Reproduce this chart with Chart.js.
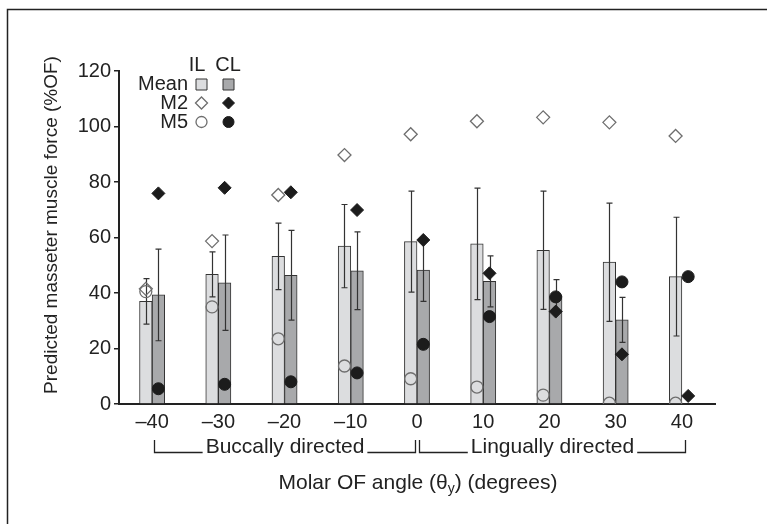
<!DOCTYPE html>
<html>
<head>
<meta charset="utf-8">
<script src="https://cdn.jsdelivr.net/npm/chart.js@4/dist/chart.umd.min.js"></script>
<style>
  html, body { margin: 0; padding: 0; background: #fff; }
  #wrap { position: relative; width: 767px; height: 524px; }
</style>
</head>
<body>
<div id="wrap"><canvas id="chart" width="767" height="524"></canvas></div>
<script>
// molar OF angle (theta y), degrees
const angles = ['\u201340', '\u201330', '\u201320', '\u201310', '0', '10', '20', '30', '40'];

// mean predicted masseter force (%OF) with SD, ipsilateral / contralateral
const meanIL = [37.0, 46.7, 53.2, 56.9, 58.5, 57.7, 55.4, 51.1, 45.9];
const sdIL = [8.2, 8.1, 12.0, 15.0, 18.2, 20.1, 21.3, 21.3, 21.4];
const meanCL = [39.3, 43.7, 46.4, 48.0, 48.3, 44.2, 39.0, 30.3, null];
const sdCL = [16.5, 17.2, 16.2, 14.0, 11.3, 9.2, 5.8, 8.1, null];

// individual models
const m2IL = [41.5, 58.7, 75.3, 89.7, 97.2, 101.9, 103.3, 101.5, 96.6];
const m2CL = [75.9, 77.9, 76.3, 69.9, 59.1, 47.1, 33.3, 17.9, 2.9];
const m5IL = [40.5, 35.0, 23.5, 13.7, 9.1, 6.1, 3.2, 0.3, 0.3];
const m5CL = [5.5, 7.1, 8.0, 11.2, 21.5, 31.5, 38.6, 44.0, 45.9];

const yTicks = [0, 20, 40, 60, 80, 100, 120];

const FONT = '"Liberation Sans", Arial, Helvetica, sans-serif';
const INK = '#222';
const IL_FILL = '#dcdddf';
const CL_FILL = '#a8a9ab';
const OPEN = '#6e6e6e';
const SOLID = '#1c1c1c';

const half = 0.095; // bar centre offset from the angle position, in index units

function pts(vals, side) {
  return vals.map((v, i) => ({ x: i + side * half, y: v }));
}

function barSet(label, vals, sd, side, fill) {
  return {
    type: 'bar',
    label,
    data: pts(vals, side),
    sd,
    order: 10,
    grouped: false,
    backgroundColor: fill,
    borderColor: '#333',
    borderWidth: 1,
    categoryPercentage: 1,
    barPercentage: 1,
  };
}

function markerSet(label, vals, side, style, filled) {
  return {
    type: 'scatter',
    label,
    order: 1,
    data: pts(vals, side),
    pointStyle: style,
    pointRadius: style === 'rectRot' ? 6.5 : 6,
    pointBorderWidth: filled ? 1 : 1.3,
    pointBorderColor: filled ? SOLID : OPEN,
    pointBackgroundColor: filled ? SOLID : 'rgba(0,0,0,0)',
  };
}

const errorBars = {
  id: 'errorBars',
  afterDatasetDraw(chart, args) {
    const ds = chart.data.datasets[args.index];
    if (!ds.sd) return;
    const ctx = chart.ctx;
    const y = chart.scales.y;
    ctx.save();
    ctx.strokeStyle = '#333';
    ctx.lineWidth = 1.2;
    args.meta.data.forEach((bar, i) => {
      const m = ds.data[i].y;
      const s = ds.sd[i];
      if (m == null || s == null) return;
      const x = Math.round(bar.x) + 0.5;
      const top = y.getPixelForValue(m + s);
      const bot = y.getPixelForValue(m - s);
      ctx.beginPath();
      ctx.moveTo(x, top); ctx.lineTo(x, bot);
      ctx.moveTo(x - 3, top); ctx.lineTo(x + 3, top);
      ctx.moveTo(x - 3, bot); ctx.lineTo(x + 3, bot);
      ctx.stroke();
    });
    ctx.restore();
  }
};

function drawMarker(ctx, style, x, y, r, filled) {
  ctx.beginPath();
  if (style === 'circle') {
    ctx.arc(x, y, r, 0, Math.PI * 2);
  } else if (style === 'rectRot') {
    ctx.moveTo(x - r, y); ctx.lineTo(x, y - r); ctx.lineTo(x + r, y); ctx.lineTo(x, y + r); ctx.closePath();
  } else {
    ctx.rect(x - r, y - r, 2 * r, 2 * r);
  }
  if (filled) { ctx.fillStyle = filled; ctx.fill(); }
}

const decor = {
  id: 'decor',
  afterDraw(chart) {
    const ctx = chart.ctx;
    const xs = chart.scales.x;
    ctx.save();

    // figure frame (left and top edges only visible)
    ctx.strokeStyle = INK;
    ctx.lineWidth = 1.5;
    ctx.beginPath();
    ctx.moveTo(7.5, 524); ctx.lineTo(7.5, 9.5); ctx.lineTo(767, 9.5);
    ctx.stroke();

    ctx.fillStyle = INK;

    // y title
    ctx.save();
    ctx.font = '19px ' + FONT;
    ctx.translate(52, 225);
    ctx.rotate(-Math.PI / 2);
    ctx.textAlign = 'center';
    ctx.textBaseline = 'middle';
    ctx.fillText('Predicted masseter muscle force (%OF)', 0, 0);
    ctx.restore();

    // x title with subscript
    const big = '21px ' + FONT;
    const small = '14px ' + FONT;
    const main1 = 'Molar OF angle (\u03b8';
    const sub = 'y';
    const main2 = ') (degrees)';
    ctx.textAlign = 'left';
    ctx.textBaseline = 'alphabetic';
    ctx.font = big;
    const w1 = ctx.measureText(main1).width;
    const w3 = ctx.measureText(main2).width;
    ctx.font = small;
    const w2 = ctx.measureText(sub).width;
    const tx = 418 - (w1 + w2 + w3) / 2;
    const base = 489;
    ctx.font = big;
    ctx.fillText(main1, tx, base);
    ctx.font = small;
    ctx.fillText(sub, tx + w1, base + 4);
    ctx.font = big;
    ctx.fillText(main2, tx + w1 + w2, base);

    // direction brackets
    const by0 = 440, by1 = 452.5, ty = 447;
    const px = (i) => xs.getPixelForValue(i);
    const bracket = (xa, xb, text) => {
      ctx.font = big;
      const tw = ctx.measureText(text).width;
      const cx = (xa + xb) / 2;
      ctx.strokeStyle = INK;
      ctx.lineWidth = 1.3;
      ctx.beginPath();
      ctx.moveTo(xa, by0); ctx.lineTo(xa, by1); ctx.lineTo(cx - tw / 2 - 3, by1);
      ctx.moveTo(cx + tw / 2 + 3, by1); ctx.lineTo(xb, by1); ctx.lineTo(xb, by0);
      ctx.stroke();
      ctx.textAlign = 'center';
      ctx.textBaseline = 'middle';
      ctx.fillText(text, cx, ty);
    };
    bracket(Math.round(px(0)) + 2.5, Math.round(px(4)) - 1.5, 'Buccally directed');
    bracket(Math.round(px(4)) + 2.5, Math.round(px(8)) + 3.5, 'Lingually directed');

    // key
    ctx.font = '20px ' + FONT;
    ctx.fillStyle = INK;
    ctx.textBaseline = 'middle';
    ctx.textAlign = 'center';
    ctx.fillText('IL', 197, 65);
    ctx.fillText('CL', 228, 65);
    ctx.textAlign = 'right';
    ctx.fillText('Mean', 188, 84);
    ctx.fillText('M2', 188, 103);
    ctx.fillText('M5', 188, 122);

    const kx = [201.5, 228.5];
    ctx.strokeStyle = '#333';
    ctx.lineWidth = 1;
    [IL_FILL, CL_FILL].forEach((c, i) => {
      drawMarker(ctx, 'rect', kx[i], 84.5, 5.5, c);
      ctx.stroke();
    });
    ctx.lineWidth = 1.3;
    ctx.strokeStyle = OPEN;
    drawMarker(ctx, 'rectRot', kx[0], 103, 6, null); ctx.stroke();
    drawMarker(ctx, 'circle', kx[0], 122, 5.5, null); ctx.stroke();
    ctx.strokeStyle = SOLID;
    ctx.lineWidth = 1;
    drawMarker(ctx, 'rectRot', kx[1], 103, 6, SOLID); ctx.stroke();
    drawMarker(ctx, 'circle', kx[1], 122, 5.5, SOLID); ctx.stroke();

    ctx.restore();
  }
};

new Chart(document.getElementById('chart'), {
  type: 'bar',
  data: {
    datasets: [
      barSet('Mean IL', meanIL, sdIL, -1, IL_FILL),
      barSet('Mean CL', meanCL, sdCL, 1, CL_FILL),
      markerSet('M2 IL', m2IL, -1, 'rectRot', false),
      markerSet('M5 IL', m5IL, -1, 'circle', false),
      markerSet('M2 CL', m2CL, 1, 'rectRot', true),
      markerSet('M5 CL', m5CL, 1, 'circle', true),
    ],
  },
  options: {
    responsive: false,
    animation: false,
    layout: { padding: { left: 0, top: 71, right: 52, bottom: 0 } },
    plugins: { legend: { display: false }, tooltip: { enabled: false } },
    scales: {
      x: {
        type: 'linear',
        offset: false,
        min: -0.5,
        max: 8.5,
        afterBuildTicks: (s) => { s.ticks = angles.map((_, i) => ({ value: i })); },
        grid: { display: true, drawOnChartArea: false, drawTicks: false },
        border: { display: true, color: INK, width: 2 },
        ticks: {
          color: INK,
          font: { family: FONT, size: 20 },
          padding: 6,
          maxRotation: 0,
          autoSkip: false,
          callback: (v) => angles[v],
        },
        afterFit: (s) => { s.height = 120; },
      },
      y: {
        type: 'linear',
        min: 0,
        max: 120,
        afterBuildTicks: (s) => { s.ticks = yTicks.map((v) => ({ value: v })); },
        grid: { drawOnChartArea: false, drawTicks: true, tickLength: 5, color: INK, lineWidth: 1.5 },
        border: { display: true, color: INK, width: 2 },
        ticks: { color: INK, font: { family: FONT, size: 20 }, padding: 3 },
        afterFit: (s) => { s.width = 119; },
      },
    },
  },
  plugins: [errorBars, decor],
});
</script>
</body>
</html>
